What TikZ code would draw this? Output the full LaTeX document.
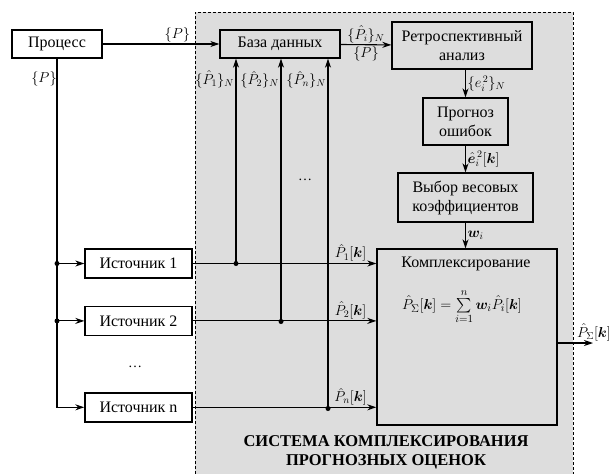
\documentclass[tikz,border=0pt]{standalone}
\usepackage{amsmath,bm}
\usepackage{fontspec}
\setmainfont{Liberation Serif}
\usetikzlibrary{arrows.meta,positioning}
\definecolor{sysgray}{RGB}{221,221,221}
\tikzset{
  block/.style={draw,line width=1.4pt,minimum height=28pt,align=center,inner sep=2pt,font=\fontsize{16}{19}\selectfont},
  outer block/.style={block,fill=white},
  inner block/.style={block,fill=sysgray},
  link/.style={line width=1.1pt},
  flow/.style={link,-{Stealth[length=9pt,width=6pt]}},
  junction/.style={circle,fill,inner sep=0pt,minimum size=5pt},
  tag/.style={inner sep=1.5pt,font=\fontsize{14}{16}\selectfont}
}

\begin{document}
\begin{tikzpicture}[x=1pt,y=-1pt,font=\fontsize{14}{16}\selectfont]
  \useasboundingbox (0,0) rectangle (616,474);
  % system frame
  \fill[sysgray] (195,12) rectangle (573,474);
  \draw[densely dashed,line width=0.8pt] (195,474) -- (195,12) -- (573,12) -- (573,474);

  \node[outer block,minimum width=90pt] (proc) at (57,44) {Процесс};
  \node[inner block,minimum width=120pt] (db) at (280,44) {База данных};
  \node[inner block,minimum width=140pt,minimum height=47pt] (retro) at (462,45.5) {Ретроспективный\\анализ};
  \node[inner block,minimum width=85pt,minimum height=47pt] (err) at (465.5,121.5) {Прогноз\\ошибок};
  \node[inner block,minimum width=135pt,minimum height=49pt] (weights) at (465.5,197.5) {Выбор весовых\\коэффициентов};
  \node[inner block,minimum width=180pt,minimum height=176pt] (fusion) at (467,337) {};
  \node[font=\fontsize{16}{19}\selectfont] (fusiontitle) at (466,264) {Комплексирование};
  \node[tag,font=\fontsize{15}{17}\selectfont] (formula) at (462,307) {$\hat{P}_{\Sigma}[\bm{k}]=\sum\limits_{i=1}^{n}\bm{w}_i\hat{P}_i[\bm{k}]$};

  % sources
  \node[outer block,minimum width=107pt,minimum height=29pt] (src1) at (138.5,263.5) {Источник 1};
  \node[outer block,minimum width=107pt,minimum height=29pt,below=27pt of src1] (src2) {Источник 2};
  \node[outer block,minimum width=107pt,minimum height=29pt,below=56pt of src2] (srcn) {Источник n};
  \node (srcdots) at (135,367) {\dots};

  % process feeds
  \draw[flow] (proc) -- node[tag,pos=0.64,above] (plabel) {$\{P\}$} (db);
  \node[tag] (pdown) at (44,79) {$\{P\}$};
  \draw[flow] (proc.south) |- (srcn.west);
  \draw[flow] (proc.south |- src1) node[junction] (j1) {} -- (src1);
  \draw[flow] (proc.south |- src2) node[junction] (j2) {} -- (src2);

  % sources to fusion
  \draw[flow] (src1) -- node[tag,pos=0.86,above] (l1) {$\hat{P}_1[\bm{k}]$} (src1 -| fusion.west);
  \draw[flow] (src2) -- node[tag,pos=0.86,above] (l2) {$\hat{P}_2[\bm{k}]$} (src2 -| fusion.west);
  \draw[flow] (srcn) -- node[tag,pos=0.86,above] (ln) {$\hat{P}_n[\bm{k}]$} (srcn -| fusion.west);

  % archive taps
  \coordinate (tap1) at (236,263.5);
  \coordinate (tap2) at (281,321.5);
  \coordinate (tap3) at (328,408.5);
  \draw[flow] (tap1) node[junction] {} -- node[tag,pos=0.9,left] (a1) {$\{\hat{P}_1\}_N$} (tap1 |- db.south);
  \draw[flow] (tap2) node[junction] {} -- node[tag,pos=0.92,left] (a2) {$\{\hat{P}_2\}_N$} (tap2 |- db.south);
  \draw[flow] (tap3) node[junction] {} -- node[tag,pos=0.94,left] (a3) {$\{\hat{P}_n\}_N$} (tap3 |- db.south);
  \node (tapdots) at (305,180) {\dots};

  % forecast chain
  \draw[flow] (db) -- node[tag,above] (b1) {$\{\hat{P}_i\}_N$} node[tag,below] (b2) {$\{P\}$} (retro);
  \draw[flow] (retro.south -| err) -- node[tag,right] (c1) {$\{e_i^{\,2}\}_N$} (err);
  \draw[flow] (err) -- node[tag,right] (c2) {$\hat{\bm{e}}_i^{\,2}[\bm{k}]$} (weights);
  \draw[flow] (weights) -- node[tag,right] (c3) {$\bm{w}_i$} (weights |- fusion.north);

  % output
  \coordinate (out) at (593,343);
  \draw[flow] (fusion.east |- out) -- (out) node[tag,above,xshift=1pt] (outlabel) {$\hat{P}_{\Sigma}[\bm{k}]$};

  \node[font=\bfseries\fontsize{16.5}{19}\selectfont,align=center] (systitle) at (386,452) {СИСТЕМА КОМПЛЕКСИРОВАНИЯ\\ПРОГНОЗНЫХ ОЦЕНОК};
\end{tikzpicture}
\end{document}
